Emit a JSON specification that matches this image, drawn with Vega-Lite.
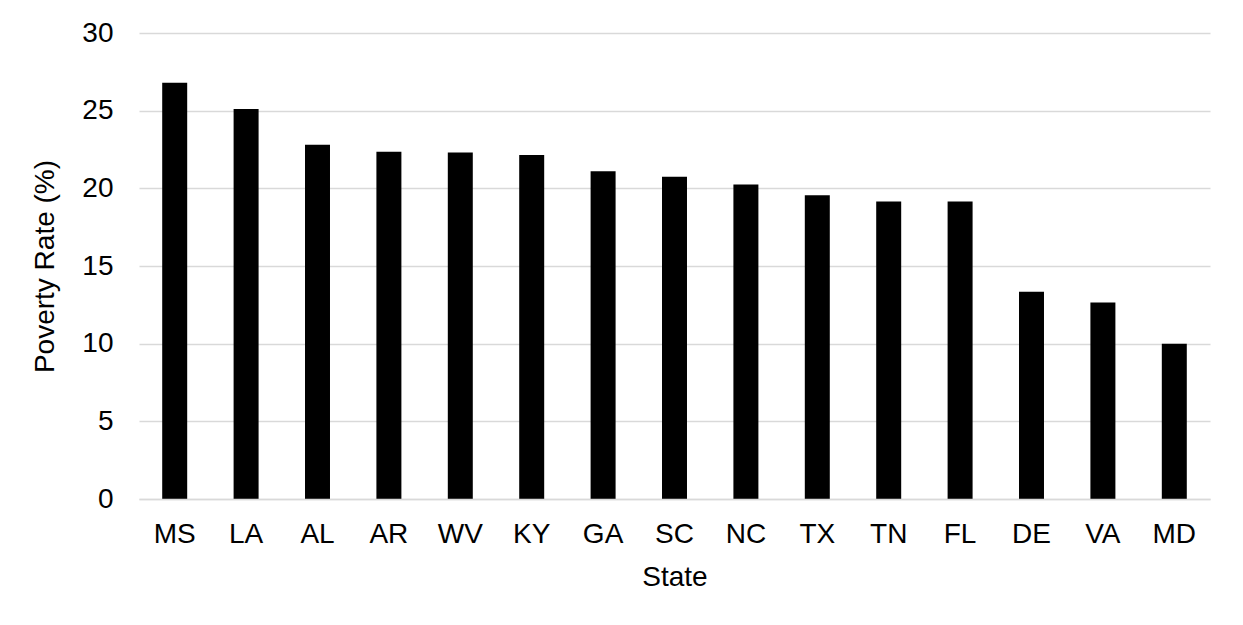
{
  "$schema": "https://vega.github.io/schema/vega-lite/v6.json",
  "autosize": "none",
  "width": 1071,
  "height": 466,
  "padding": {"left": 139, "top": 33, "right": 33, "bottom": 126},
  "background": "white",
  "data": {
    "values": [
      {"state": "MS", "rate": 26.8},
      {"state": "LA", "rate": 25.1},
      {"state": "AL", "rate": 22.8},
      {"state": "AR", "rate": 22.35},
      {"state": "WV", "rate": 22.3},
      {"state": "KY", "rate": 22.15},
      {"state": "GA", "rate": 21.1},
      {"state": "SC", "rate": 20.75},
      {"state": "NC", "rate": 20.25},
      {"state": "TX", "rate": 19.55},
      {"state": "TN", "rate": 19.15},
      {"state": "FL", "rate": 19.15},
      {"state": "DE", "rate": 13.35},
      {"state": "VA", "rate": 12.65},
      {"state": "MD", "rate": 10.0}
    ]
  },
  "mark": {"type": "bar", "color": "black"},
  "encoding": {
    "x": {
      "field": "state",
      "type": "nominal",
      "sort": null,
      "title": "State",
      "scale": {"paddingInner": 0.65, "paddingOuter": 0.325},
      "axis": {
        "labelAngle": 0,
        "ticks": false,
        "domain": true,
        "domainColor": "#d9d9d9",
        "domainWidth": 1.5,
        "zindex": 1,
        "labelPadding": 21,
        "titlePadding": 15
      }
    },
    "y": {
      "field": "rate",
      "type": "quantitative",
      "title": "Poverty Rate (%)",
      "scale": {"domain": [0, 30]},
      "axis": {
        "values": [0, 5, 10, 15, 20, 25, 30],
        "ticks": false,
        "domain": false,
        "labelPadding": 26,
        "titlePadding": 22,
        "gridColor": "#d9d9d9",
        "gridWidth": 1.5
      }
    }
  },
  "config": {
    "view": {"stroke": null},
    "font": "Liberation Sans",
    "axis": {
      "labelFont": "Liberation Sans",
      "titleFont": "Liberation Sans",
      "labelFontSize": 28,
      "titleFontSize": 28,
      "titleFontWeight": "normal",
      "labelColor": "#000000",
      "titleColor": "#000000"
    }
  }
}
